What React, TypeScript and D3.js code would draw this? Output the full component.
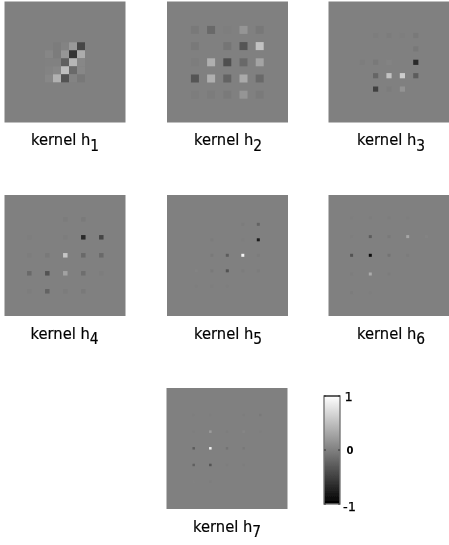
import React from "react";
import * as d3 from "d3";

const kernel1 = [
  [0, -0.03, 0.03, 0.2, -0.45],
  [0.05, -0.03, 0.18, -0.58, 0.35],
  [0.01, 0.01, -0.24, 0.43, 0.06],
  [0.03, 0.06, 0.5, -0.16, 0.06],
  [0.06, 0.39, -0.36, 0.03, -0.06],
];
const kernel2 = [
  [-0.05, -0.18, -0.01, 0.17, -0.06],
  [-0.05, 0, -0.08, -0.34, 0.52],
  [-0.02, 0.37, -0.38, -0.18, 0.29],
  [-0.34, 0.37, -0.22, 0.33, -0.18],
  [-0.02, -0.03, -0.04, 0.17, -0.04],
];
const kernel3 = [
  [0, -0.02, -0.03, -0.01, -0.05],
  [0, 0, 0, 0, -0.06],
  [-0.02, -0.05, 0.03, 0, -0.66],
  [0, -0.2, 0.52, 0.6, -0.28],
  [0, -0.5, -0.03, 0.15, 0],
];
const kernel4 = [
  [0, 0, -0.03, -0.04, 0],
  [-0.01, 0, -0.02, -0.66, -0.46],
  [-0.02, -0.05, 0.55, -0.18, -0.18],
  [-0.18, -0.36, 0.27, -0.14, -0.02],
  [-0.02, -0.22, -0.03, -0.05, 0],
];
const kernel5 = [
  [0, 0, 0, -0.03, -0.22],
  [0, -0.03, 0, -0.01, -0.78],
  [0, -0.05, -0.28, 0.9, -0.03],
  [0.03, -0.05, -0.36, -0.03, -0.03],
  [-0.01, -0.01, -0.01, 0, 0],
];
const kernel6 = [
  [-0.01, -0.02, -0.02, -0.01, 0],
  [-0.01, -0.28, -0.05, 0.3, 0.03],
  [-0.36, -0.9, -0.1, -0.03, 0],
  [-0.02, 0.34, -0.03, 0, 0],
  [-0.03, -0.01, 0, 0, 0],
];
const kernel7 = [
  [-0.01, -0.01, 0, -0.02, -0.05],
  [-0.01, 0.22, -0.02, 0.04, -0.01],
  [-0.28, 0.9, -0.1, -0.06, 0],
  [-0.24, -0.36, -0.02, -0.02, 0],
  [0.01, -0.02, 0, 0, 0],
];
const kernels = [kernel1, kernel2, kernel3, kernel4, kernel5, kernel6, kernel7];
const subscripts = ["1", "2", "3", "4", "5", "6", "7"];
const colorbarTicks = [1, 0, -1];

const PANEL = 121;
const panels = [
  { x: 4.5, y: 1.5, cx: 65, cy: 62.3, step: 8, cell: 8, tx: 31 },
  { x: 167, y: 1.5, cx: 227.3, cy: 62.3, step: 16.2, cell: 8, tx: 194 },
  { x: 328.5, y: 1.5, cx: 389, cy: 62.3, step: 13.4, cell: 5.2, tx: 357 },
  { x: 4.5, y: 195, cx: 65.3, cy: 255.3, step: 18, cell: 4.5, tx: 30.5 },
  { x: 167, y: 195, cx: 227.3, cy: 255.3, step: 15.5, cell: 3, tx: 194 },
  { x: 328.5, y: 195, cx: 389, cy: 255.3, step: 18.7, cell: 3, tx: 357 },
  { x: 166.5, y: 388, cx: 227, cy: 448.3, step: 16.65, cell: 2.5, tx: 193 },
];

const gray = d3.scaleLinear<string>().domain([-1, 1]).range(["#000000", "#ffffff"]);
const FONT = "'DejaVu Sans', sans-serif";

export default function App() {
  const cb = { x: 324, y: 396, w: 16, h: 108 };
  const cbY = d3.scaleLinear().domain([1, -1]).range([cb.y, cb.y + cb.h]);
  return (
    <svg width={449} height={545} style={{ position: "absolute", left: 0, top: 0, background: "#fff" }}>
      <defs>
        <filter id="soft" x="-5%" y="-5%" width="110%" height="110%">
          <feGaussianBlur stdDeviation="0.55" />
        </filter>
        <filter id="softText" x="-5%" y="-10%" width="110%" height="120%">
          <feGaussianBlur stdDeviation="0.25" />
        </filter>
        <linearGradient id="cbGrad" x1="0" y1="0" x2="0" y2="1">
          {d3.range(0, 1.01, 0.25).map((t) => (
            <stop key={t} offset={t} stopColor={gray(1 - 2 * t)} />
          ))}
        </linearGradient>
      </defs>
      {panels.map((p, k) => {
        const xs = d3.scaleLinear().domain([-2, 2]).range([p.cx - 2 * p.step, p.cx + 2 * p.step]);
        const ys = d3.scaleLinear().domain([-2, 2]).range([p.cy - 2 * p.step, p.cy + 2 * p.step]);
        return (
          <g key={k}>
            <g filter="url(#soft)">
              <rect x={p.x} y={p.y} width={PANEL} height={PANEL} fill={gray(0)} />
              {kernels[k].map((row, r) =>
                row.map((v, c) => (
                  <rect
                    key={`${r}-${c}`}
                    x={xs(c - 2) - p.cell / 2}
                    y={ys(r - 2) - p.cell / 2}
                    width={p.cell}
                    height={p.cell}
                    fill={gray(v)}
                  />
                )),
              )}
            </g>
            <g transform={`translate(${p.tx},${p.y + 143.5}) scale(0.92,1)`} filter="url(#softText)">
              <text x={0} y={0} fontFamily={FONT} fontSize={16} fill="#000" stroke="#000" strokeWidth={0.2}>
                kernel h
                <tspan dy={5.5} fontSize={15}>
                  {subscripts[k]}
                </tspan>
              </text>
            </g>
          </g>
        );
      })}
      <g filter="url(#softText)">
        <rect x={cb.x} y={cb.y} width={cb.w} height={cb.h} fill="url(#cbGrad)" stroke="#777" strokeWidth={1.4} />
        <line x1={cb.x} x2={cb.x + cb.w} y1={cb.y} y2={cb.y} stroke="#222" />
        {colorbarTicks.map((t) => (
          <g key={t}>
            <line x1={cb.x} x2={cb.x + 2} y1={cbY(t)} y2={cbY(t)} stroke="#333" />
            <line x1={cb.x + cb.w - 2} x2={cb.x + cb.w} y1={cbY(t)} y2={cbY(t)} stroke="#333" />
          </g>
        ))}
        {colorbarTicks.map((t) => (
          <text
            key={t}
            x={t < 0 ? 343 : t === 0 ? 346.5 : 344.5}
            y={cbY(t) + (t === 0 ? 3.5 : t > 0 ? 5 : 7)}
            fontFamily={FONT}
            fontSize={t === 0 ? 10 : 13}
            fontWeight={t === 0 ? "bold" : "normal"}
            fill="#000"
            stroke="#000"
            strokeWidth={t === 0 ? 0 : 0.25}
          >
            {t}
          </text>
        ))}
      </g>
    </svg>
  );
}
